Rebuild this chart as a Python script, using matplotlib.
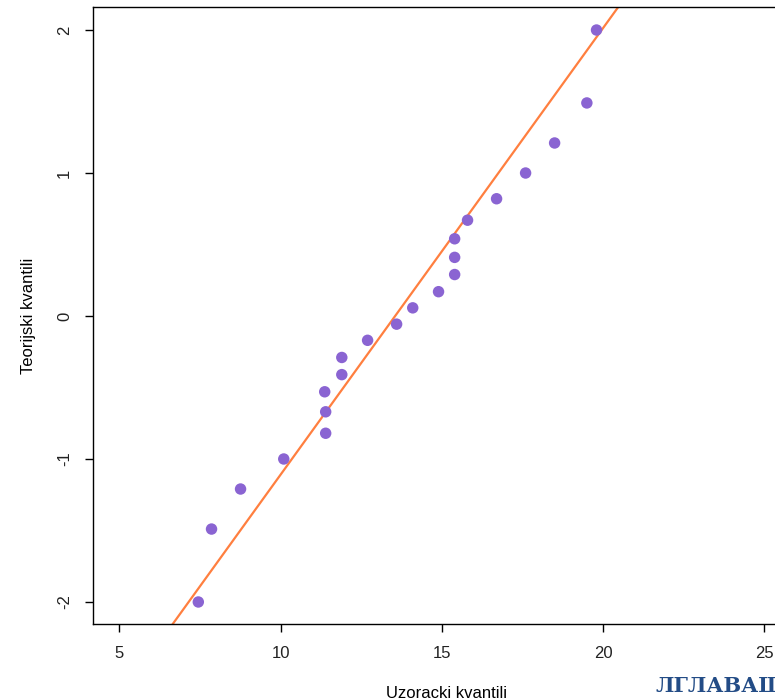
import numpy as np
import matplotlib.pyplot as plt

plt.rcParams['font.family'] = ['Liberation Sans', 'DejaVu Sans']
plt.rcParams['axes.unicode_minus'] = False

# uzorak (sortiran) i teorijski kvantili
uzorak = [7.45, 7.86, 8.76, 10.1, 11.4, 11.4, 11.37, 11.9, 11.9, 12.7, 13.6,
          14.1, 14.9, 15.4, 15.4, 15.4, 15.8, 16.7, 17.6, 18.5, 19.5, 19.8]
teorijski = [-2.0, -1.49, -1.21, -1.0, -0.82, -0.67, -0.53, -0.41, -0.29, -0.17, -0.057,
             0.057, 0.17, 0.29, 0.41, 0.54, 0.67, 0.82, 1.0, 1.21, 1.49, 2.0]
nagib = 0.3123
odsjecak = -4.233

xticks = [5, 10, 15, 20, 25]
yticks = [-2, -1, 0, 1, 2]

fig = plt.figure(figsize=(7.75, 6.99), dpi=100)
ax = fig.add_axes([93/775, 75/699, 707/775, 617/699])

ax.axline((0, odsjecak), slope=nagib, color='#ff7f3f', lw=1.6, zorder=2)
ax.scatter(uzorak, teorijski, s=68, color='#8a64d2', edgecolors='none', zorder=3)

ax.set_xlim(4.184, 26.11)
ax.set_ylim(-2.154, 2.161)
ax.set_xticks(xticks)
ax.set_yticks(yticks)
ax.tick_params(axis='both', direction='out', length=6, width=1, labelsize=12,
               labelcolor='#222222')
ax.tick_params(axis='x', pad=10)
ax.tick_params(axis='y', pad=9)
for lab in ax.get_yticklabels():
    lab.set_rotation(90)
    lab.set_va('center')

for s in ax.spines.values():
    s.set_linewidth(1.0)

ax.set_xlabel('Uzoracki kvantili', fontsize=12, labelpad=18)
ax.set_ylabel('Teorijski kvantili', fontsize=12, labelpad=15)

fig.text(655/775, 1 - 692/699, 'ЛГЛАВАШ', fontsize=15, fontweight='bold',
         family=['DejaVu Serif', 'Liberation Serif'], color='#234c86',
         ha='left', va='baseline')

fig.savefig('out.png', dpi=100)
